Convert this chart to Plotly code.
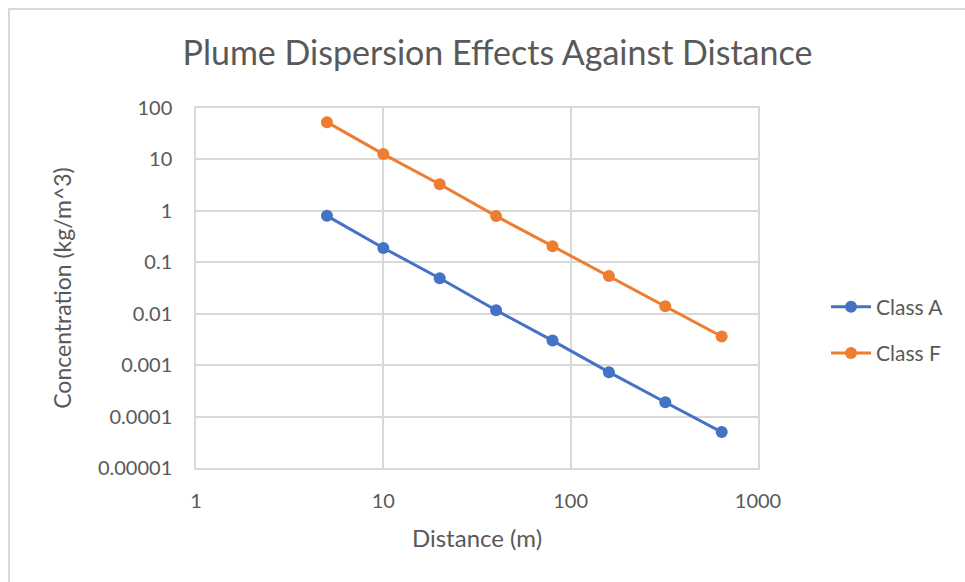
import plotly.graph_objects as go

distance = [5, 10, 20, 40, 80, 160, 320, 640]
class_a = [0.8, 0.19, 0.049, 0.0117, 0.003, 0.00073, 0.00019, 0.00005]
class_f = [53, 12.7, 3.3, 0.79, 0.206, 0.054, 0.014, 0.0036]
series_names = ["Class A", "Class F"]
x_ticks = [1, 10, 100, 1000]
y_ticks = [100, 10, 1, 0.1, 0.01, 0.001, 0.0001, 0.00001]
y_tick_text = ["100", "10", "1", "0.1", "0.01", "0.001", "0.0001", "0.00001"]

FONT = "Lato"
GRID = "#d9d9d9"
TXT = "#595959"

fig = go.Figure()
for name, vals, col, grp in [(series_names[0], class_a, "#4472C4", "a"),
                             (series_names[1], class_f, "#ED7D31", "f")]:
    fig.add_trace(go.Scatter(x=distance, y=vals, name=name, mode="lines+markers",
                             line=dict(color=col, width=3),
                             marker=dict(color=col, size=12),
                             legendgroup=grp))

fig.update_layout(
    width=965, height=582,
    margin=dict(l=196, r=207, t=108, b=114),
    paper_bgcolor="white", plot_bgcolor="white",
    font=dict(family=FONT, color=TXT, size=20),
    title=dict(text="Plume Dispersion Effects Against Distance",
               x=(497.5 - 196) / 562, xref="paper", xanchor="center",
               y=1 - 53 / 582, yanchor="middle",
               font=dict(size=34, color=TXT, family=FONT)),
    showlegend=True,
    legend=dict(x=(826 - 196) / 562, xanchor="left", y=1 - (330 - 108) / 360, yanchor="middle",
                font=dict(size=21, color=TXT), tracegroupgap=16, itemwidth=40,
                bgcolor="rgba(0,0,0,0)"),
    xaxis=dict(type="log", range=[0, 3], tickvals=x_ticks, ticktext=[str(v) for v in x_ticks],
               showgrid=True, gridcolor=GRID, gridwidth=1.5,
               showline=True, linecolor=GRID, linewidth=1.5, mirror=True,
               zeroline=False, ticks="", ticklen=0,
               tickfont=dict(size=20, color=TXT), ticklabelstandoff=14,
               title=dict(text="Distance (m)", font=dict(size=24, color=TXT), standoff=19)),
    yaxis=dict(type="log", range=[-5, 2], tickvals=y_ticks, ticktext=y_tick_text,
               showgrid=True, gridcolor=GRID, gridwidth=1.5,
               showline=True, linecolor=GRID, linewidth=1.5, mirror=True,
               zeroline=False, ticks="", ticklen=0,
               tickfont=dict(size=20, color=TXT), ticklabelstandoff=18,
               title=dict(text="Concentration (kg/m^3)", font=dict(size=23, color=TXT), standoff=20)),
)

# outer chart border
fig.add_shape(type="rect", xref="paper", yref="paper",
              x0=(9 - 196) / 562, x1=(975 - 196) / 562,
              y0=-(592 - 468) / 360, y1=1 + (108 - 9) / 360,
              line=dict(color=GRID, width=2), fillcolor="rgba(0,0,0,0)", layer="below")

fig.write_html("out.html")
